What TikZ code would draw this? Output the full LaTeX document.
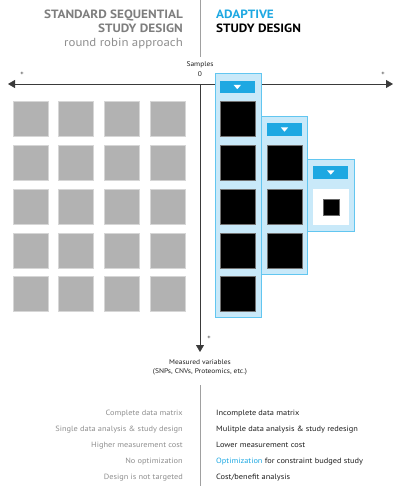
\documentclass[tikz,border=0pt]{standalone}
\usepackage{fontspec}
\setmainfont{PT Sans}[FakeStretch=1.1]
\usetikzlibrary{arrows.meta}
\definecolor{ablue}{HTML}{1EA8E2}
\definecolor{lblue}{HTML}{C9E9F9}
\definecolor{bblue}{HTML}{62C6F0}
\definecolor{sqgrey}{HTML}{B2B2B2}
\definecolor{sqedge}{HTML}{D6D6D6}
\definecolor{txtgrey}{HTML}{7E7E7E}
\definecolor{txtlgrey}{HTML}{8E8E8E}
\definecolor{axisc}{HTML}{3A3A3A}
\definecolor{divc}{HTML}{A0A0A0}
\definecolor{dark}{HTML}{1E1E1E}
\tikzset{
  greysq/.style={rectangle, draw=sqedge, fill=sqgrey, line width=0.6pt, minimum size=35pt, inner sep=0pt, outer sep=0pt},
  blacksq/.style={rectangle, draw=black!55, fill=black, line width=0.5pt, minimum size=35pt, inner sep=0pt, outer sep=0pt},
  panel/.style={rectangle, draw=bblue, fill=lblue, line width=0.7pt, inner sep=0pt, outer sep=0pt},
  headbar/.style={rectangle, fill=ablue, minimum width=35pt, minimum height=12.6pt, inner sep=0pt, outer sep=0pt},
  whitesq/.style={rectangle, fill=white, minimum size=35.5pt, inner sep=0pt, outer sep=0pt},
  innersq/.style={rectangle, fill=black, draw=black!60, line width=0.4pt, minimum size=16pt, inner sep=0pt},
  htitle/.style={inner sep=0pt, font=\fontsize{12}{14}\selectfont\bfseries},
  hsub/.style={inner sep=0pt, font=\fontsize{11.7}{14}\selectfont, text=txtlgrey},
  axlabel/.style={inner sep=0pt, font=\fontsize{6.8}{8}\selectfont, text=dark},
  plus/.style={inner sep=0pt, font=\fontsize{6}{7}\selectfont, text=dark},
  ltext/.style={inner sep=0pt, anchor=base east, font=\fontsize{7.6}{10}\selectfont, text=txtlgrey},
  rtext/.style={inner sep=0pt, anchor=base west, font=\fontsize{7.6}{10}\selectfont, text=dark},
  axisline/.style={draw=axisc, line width=0.8pt},
}
\begin{document}
\begin{tikzpicture}[x=1pt,y=-1pt]
\useasboundingbox (0,0) rectangle (400,486);
% divider
\coordinate (dt) at (200,0);
\coordinate (db) at (200,57);
\coordinate (dt2) at (200,385);
\coordinate (db2) at (200,486);
\draw[divc, line width=0.6pt] (dt) -- (db);
\draw[divc, line width=0.6pt] (dt2) -- (db2);
% headers
\node[htitle, anchor=base east, text=txtgrey] (h1) at (183,18.3) {STANDARD SEQUENTIAL};
\node[htitle, anchor=base east, text=txtgrey] (h2) at (183,32.3) {STUDY DESIGN};
\node[hsub, anchor=base east] (h3) at (183,46.5) {round robin approach};
\node[htitle, anchor=base west, text=ablue] (h4) at (216,18.3) {ADAPTIVE};
\node[htitle, anchor=base west, text=black] (h5) at (216,32.3) {STUDY DESIGN};
% axes
\coordinate (L) at (8,84);
\coordinate (R) at (393,84);
\coordinate (O) at (200,84);
\coordinate (D) at (200,352);
\draw[axisline, {Triangle[length=7pt,width=8pt]}-{Triangle[length=7pt,width=8pt]}] (L) -- (R);
\draw[axisline, -{Triangle[length=7pt,width=8pt]}] (O) -- (D);
\node[axlabel, anchor=base] (samples) at (200,67) {Samples};
\node[axlabel, anchor=base] (zero) at (200,77) {0};
\node[plus] (p1) at (22,73.5) {+};
\node[plus] (p2) at (383,73.5) {+};
\node[plus] (p3) at (209,338) {+};
\node[axlabel, anchor=base] (mv1) at (200,364.5) {Measured variables};
\node[axlabel, anchor=base] (mv2) at (200,373.5) {(SNPs, CNVs, Proteomics, etc.)};
% grey grid
\foreach \i in {0,...,3}{
  \foreach \j in {0,...,4}{
    \node[greysq] (g\i\j) at ({30.5+45.6*\i},{119+43.8*\j}) {};
  }
}
% adaptive panels
\node[panel, minimum width=46pt, minimum height=244.4pt] (c1) at (238,195.5) {};
\node[panel, minimum width=46.3pt, minimum height=157.7pt] (c2) at (284.15,195.15) {};
\node[panel, minimum width=47pt, minimum height=72.7pt] (c3) at (330.8,195.35) {};
\node[headbar] (hb1) at (237.3,87) {};
\node[headbar] (hb2) at (284.5,129.5) {};
\node[headbar] (hb3) at (330.8,172.5) {};
\foreach \h in {hb1,hb2,hb3}{
  \fill[white] ([shift={(-3.6,-2)}]\h.center) -- ++(7.2,0) -- ++(-3.6,4.2) -- cycle;
}
\foreach \j in {0,...,4}{
  \node[blacksq] (a\j) at (238,{119+43.8*\j}) {};
}
\foreach \j in {0,...,2}{
  \node[blacksq] (b\j) at (284.5,{162.8+43.8*\j}) {};
}
\node[whitesq] (w) at (331,206.8) {};
\node[innersq] (wi) at (w.center) {};
% bottom lists
\node[ltext] (l1) at (183,415.5) {Complete data matrix};
\node[ltext] (l2) at (183,431.2) {Single data analysis \& study design};
\node[ltext] (l3) at (183,447) {Higher measurement cost};
\node[ltext] (l4) at (183,463.2) {No optimization};
\node[ltext] (l5) at (183,479) {Design is not targeted};
\node[rtext] (r1) at (216,415.5) {Incomplete data matrix};
\node[rtext] (r2) at (216,431.2) {Mulitple data analysis \& study redesign};
\node[rtext] (r3) at (216,447) {Lower measurement cost};
\node[rtext] (r4) at (216,463.2) {\textcolor{ablue}{Optimization} for constraint budged study};
\node[rtext] (r5) at (216,479) {Cost/benefit analysis};
\end{tikzpicture}
\end{document}
